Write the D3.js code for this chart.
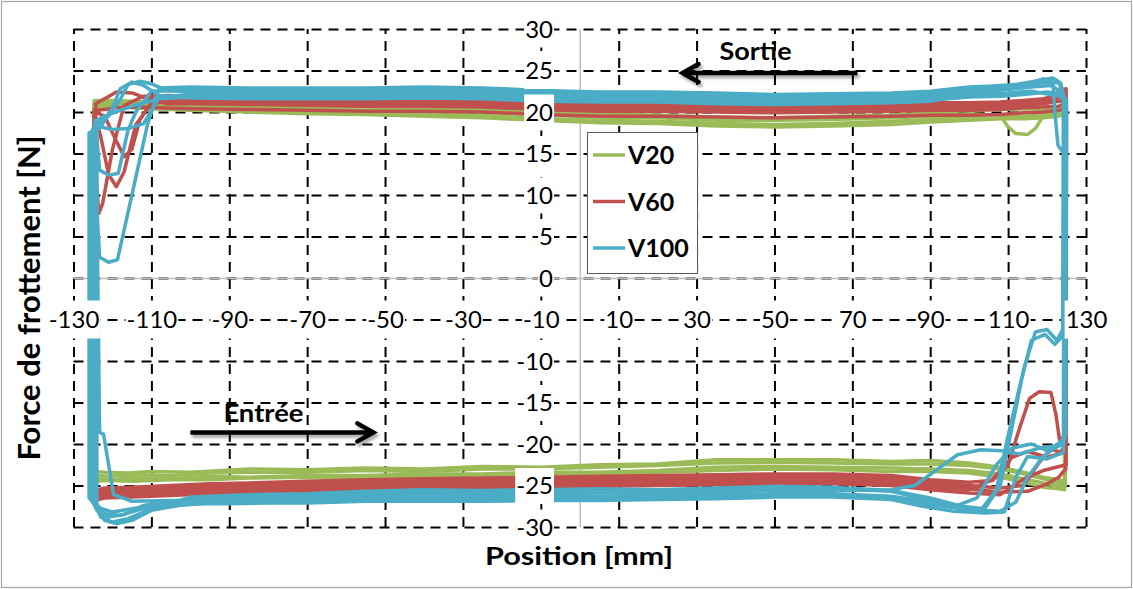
<!DOCTYPE html>
<html>
<head>
<meta charset="utf-8">
<script src="https://cdn.jsdelivr.net/npm/d3@7"></script>
<style>
html,body{margin:0;padding:0;background:#fff;}
svg{display:block;font-family:Lato,"Open Sans",sans-serif;}
</style>
</head>
<body>
<svg id="chart" width="1133" height="589"></svg>
<script>
// ---------------- data ----------------
const xTickValues = [-130,-110,-90,-70,-50,-30,-10,10,30,50,70,90,110,130];
const yGridValues = [30,25,20,15,10,5,0,-5,-10,-15,-20,-25,-30];
const yLabelValues = [30,25,20,15,10,5,0,-10,-15,-20,-25,-30];
const seriesNames = ["V20","V60","V100"];
const seriesColors = ["#9BBB59","#C0504D","#4BACC6"];
const xTitle = "Position [mm]";
const yTitle = "Force de frottement [N]";
// annotation arrows [xStart, xTip, y] and labels [text, x, y] in data units
const sortieArrow = [71.3, 26.4, 24.7];
const entreeArrow = [-100, -53, -18.6];
const sortieLabel = ["Sortie", 35.9, 26.3];
const entreeLabel = ["Entrée", -91.5, -17.3];

// V20 cycles (position mm, force N): bottom pass left->right, then top pass right->left
const v20a = [[-124.7,-23.3],[-122,-23.4],[-116,-23.5],[-110,-23.3],[-100,-23.4],[-85,-23.0],[-70,-23.1],[-55,-22.9],[-40,-23.0],[-25,-22.7],[-10,-22.8],[5,-22.5],[20,-22.4],[35,-21.9],[50,-21.9],[65,-21.9],[80,-22.1],[90,-22.0],[100,-22.3],[108,-22.8],[114,-23.4],[119,-24.0],[123,-24.3],[124.6,-24.5],
  [124.9,21.6],[123,20.6],[119,20.3],[114,20.4],[108,20.3],[100,20.2],[90,19.9],[80,19.6],[65,19.5],[50,19.3],[35,19.4],[20,19.6],[5,19.8],[-10,20.0],[-25,20.3],[-40,20.4],[-55,20.6],[-70,20.7],[-85,20.9],[-100,21.0],[-110,21.2],[-120,21.4],[-124.7,21.4]];
const v20b = [[-124.5,-23.8],[-121,-23.9],[-115,-23.7],[-105,-23.8],[-95,-23.5],[-85,-23.4],[-70,-23.4],[-55,-23.2],[-40,-23.3],[-25,-23.0],[-10,-23.0],[5,-22.8],[20,-22.6],[35,-22.3],[50,-22.2],[65,-22.3],[80,-22.4],[90,-22.4],[100,-22.6],[108,-23.0],[114,-23.6],[119,-24.2],[123,-24.6],[124.5,-24.8],
  [124.6,20.3],[122,20.0],[119,19.5],[117,18.0],[115,17.3],[112,17.4],[110,18.2],[108,19.6],[100,19.8],[90,19.5],[80,19.3],[65,19.1],[50,19.0],[35,19.0],[20,19.3],[5,19.4],[-10,19.6],[-25,20.0],[-40,20.1],[-55,20.2],[-70,20.4],[-85,20.5],[-100,20.7],[-110,20.9],[-118,21.0],[-124.5,21.0]];
const v20c = [[-124.8,-24.2],[-121,-24.3],[-115,-24.1],[-105,-24.2],[-95,-23.9],[-85,-24.0],[-70,-23.8],[-55,-23.8],[-40,-23.6],[-25,-23.6],[-10,-23.4],[5,-23.4],[20,-23.2],[35,-22.8],[50,-22.7],[65,-22.8],[80,-22.9],[90,-23.0],[100,-23.2],[108,-23.6],[114,-24.2],[119,-24.7],[123,-25.0],[124.7,-25.2],
  [124.8,20.0],[123,19.8],[119,19.6],[114,19.5],[108,19.6],[100,19.4],[90,19.1],[80,18.9],[65,18.6],[50,18.5],[35,18.6],[20,18.9],[5,19.0],[-10,19.2],[-25,19.6],[-40,19.8],[-55,19.9],[-70,20.1],[-85,20.2],[-100,20.4],[-110,20.6],[-120,20.8],[-124.8,20.9]];
const v20d = [[-124.6,-24.5],[-121,-24.4],[-115,-24.5],[-105,-24.3],[-95,-24.3],[-85,-24.1],[-70,-24.0],[-55,-24.1],[-40,-23.9],[-25,-23.8],[-10,-23.8],[5,-23.6],[20,-23.4],[35,-23.2],[50,-23.0],[65,-23.1],[80,-23.3],[90,-23.3],[100,-23.5],[108,-24.0],[114,-24.6],[119,-25.2],[123,-25.4],[124.5,-25.5],
  [124.6,19.7],[123,19.5],[119,19.3],[114,19.2],[108,19.2],[100,19.0],[90,18.8],[80,18.5],[65,18.3],[50,18.2],[35,18.3],[20,18.6],[5,18.7],[-10,19.0],[-25,19.3],[-40,19.5],[-55,19.7],[-70,19.8],[-85,20.0],[-100,20.2],[-110,20.4],[-118,20.6],[-124.6,20.6]];

// V60 cycles
const v60a = [[-124.5,-25.6],[-122,-25.3],[-115,-25.2],[-105,-25.0],[-95,-24.8],[-85,-24.7],[-70,-24.5],[-55,-24.3],[-40,-24.2],[-25,-24.1],[-10,-24.0],[5,-23.9],[20,-23.8],[35,-23.7],[50,-23.6],[65,-23.6],[80,-23.8],[90,-24.3],[100,-24.6],[106,-24.4],[110,-22.5],[113,-18],[115.5,-14.5],[118,-13.7],[121,-13.8],[122.3,-16.5],[123.2,-19.5],[124.8,-19],
  [124.9,22.8],[123.5,22.6],[121,21.8],[119,21.6],[114,21.4],[108,21.2],[100,21.1],[90,21.1],[80,21.0],[65,20.9],[50,20.8],[35,20.9],[20,21.0],[5,21.0],[-10,21.2],[-25,21.5],[-40,21.6],[-55,21.6],[-70,21.7],[-85,21.8],[-100,21.9],[-106,22.0],[-112,21.9],[-117,20.8],[-120,15.5],[-122.5,9],[-123.5,7.8],[-124.2,12],[-124.6,19]];
const v60b = [[-124.4,-26.0],[-122,-25.6],[-115,-25.5],[-105,-25.3],[-95,-25.1],[-85,-25.0],[-70,-24.8],[-55,-24.6],[-40,-24.5],[-25,-24.4],[-10,-24.3],[5,-24.2],[20,-24.1],[35,-24.0],[50,-23.9],[65,-23.9],[80,-24.1],[90,-24.6],[100,-25.0],[108,-25.3],[114,-25.0],[118,-22.2],[121,-20.6],[123.5,-21.0],[124.7,-20],
  [124.8,22.3],[123,21.7],[119,21.3],[114,21.1],[108,20.9],[100,20.8],[90,20.8],[80,20.7],[65,20.6],[50,20.5],[35,20.6],[20,20.7],[5,20.7],[-10,20.9],[-25,21.2],[-40,21.3],[-55,21.3],[-70,21.4],[-85,21.5],[-100,21.6],[-106,21.3],[-110,21.0],[-114,18.5],[-117,12.8],[-119,11.0],[-121,12.5],[-123,17],[-124.4,19.5]];
const v60c = [[-124.6,-26.3],[-122,-25.9],[-115,-25.8],[-105,-25.6],[-95,-25.4],[-85,-25.3],[-70,-25.1],[-55,-24.9],[-40,-24.8],[-25,-24.7],[-10,-24.6],[5,-24.5],[20,-24.4],[35,-24.3],[50,-24.2],[65,-24.2],[80,-24.4],[90,-24.9],[100,-25.4],[108,-25.8],[115,-25.7],[120,-24.8],[123,-24.0],[124.8,-23],
  [124.9,21.5],[123,21.3],[119,21.0],[114,20.8],[108,20.6],[100,20.5],[90,20.5],[80,20.4],[65,20.3],[50,20.2],[35,20.3],[20,20.4],[5,20.4],[-10,20.6],[-25,20.9],[-40,21.0],[-55,21.0],[-70,21.1],[-85,21.2],[-100,21.3],[-106,21.3],[-110,21.2],[-113,19.0],[-115,15.5],[-117,14.6],[-119,16.5],[-122,19.5],[-124.6,20]];
const v60d = [[-124.3,-26.6],[-122,-26.2],[-115,-26.1],[-105,-25.9],[-95,-25.7],[-85,-25.6],[-70,-25.4],[-55,-25.2],[-40,-25.1],[-25,-25.0],[-10,-24.9],[5,-24.8],[20,-24.7],[35,-24.6],[50,-24.5],[65,-24.5],[80,-24.7],[90,-25.2],[100,-25.5],[106,-24.3],[111,-21.6],[115,-20.9],[120,-21.6],[124.6,-21],
  [124.7,20.9],[123,20.7],[119,20.6],[114,20.5],[108,20.3],[100,20.2],[90,20.2],[80,20.1],[65,20.0],[50,19.9],[35,20.0],[20,20.1],[5,20.1],[-10,20.3],[-25,20.6],[-40,20.7],[-55,20.7],[-70,20.8],[-85,20.9],[-100,21.0],[-106,21.0],[-111,21.6],[-115,22.3],[-119,22.4],[-122,21.6],[-124.3,21]];
const v60e = [[-124.7,-26.8],[-122,-26.5],[-115,-26.4],[-105,-26.2],[-95,-26.0],[-85,-25.9],[-70,-25.7],[-55,-25.5],[-40,-25.4],[-25,-25.3],[-10,-25.2],[5,-25.1],[20,-25.0],[35,-24.9],[50,-24.8],[65,-24.8],[80,-25.0],[90,-25.5],[100,-25.9],[108,-26.1],[114,-24.2],[119,-23.2],[124.9,-22.5],
  [125,20.4],[123,20.2],[119,20.0],[114,19.9],[108,19.7],[100,19.6],[90,19.6],[80,19.5],[65,19.4],[50,19.3],[35,19.4],[20,19.5],[5,19.5],[-10,19.7],[-25,20.0],[-40,20.1],[-55,20.1],[-70,20.2],[-85,20.3],[-100,20.4],[-108,20.5],[-114,20.6],[-119,20.5],[-122,20.3],[-124.7,20.2]];

// V100 cycles
const v100a = [[-125,-26.8],[-123,-28.8],[-120,-29.4],[-116,-29.0],[-110,-27.8],[-100,-26.4],[-85,-26.1],[-70,-26.0],[-55,-25.7],[-40,-25.5],[-25,-25.6],[-10,-25.5],[5,-25.4],[20,-25.5],[35,-25.3],[50,-25.1],[65,-25.2],[80,-25.6],[90,-26.5],[98,-27.5],[104,-27.8],[108,-25],[111,-18],[114,-11],[117,-6.5],[120,-6.2],[122.5,-7.5],[124.3,-6],
  [124.5,21.5],[123.5,23.5],[121.5,24.1],[118,23.8],[112,23.3],[105,23.1],[100,23.0],[90,22.5],[80,22.3],[65,22.2],[50,22.1],[35,22.3],[20,22.4],[5,22.4],[-10,22.6],[-25,22.9],[-40,23.0],[-55,22.9],[-70,22.9],[-85,22.9],[-100,23.0],[-108,22.9],[-111,18.5],[-115,10],[-118.7,2.2],[-121,1.9],[-123.3,2.5],[-124.2,10],[-125,18]];
const v100b = [[-124.5,-27.0],[-122,-28.4],[-118,-28.6],[-113,-27.9],[-105,-27.0],[-95,-26.5],[-85,-26.4],[-70,-26.2],[-55,-26.0],[-40,-25.8],[-25,-25.8],[-10,-25.7],[5,-25.7],[20,-25.7],[35,-25.5],[50,-25.4],[65,-25.4],[80,-25.7],[90,-26.8],[98,-27.8],[103,-28.0],[107,-25.5],[110,-19],[113,-13],[116,-7.5],[119.5,-6.8],[122,-8],[124,-7],
  [124.2,22.3],[123,23.5],[120,23.6],[116,23.3],[110,23.0],[100,22.7],[90,22.2],[80,22.0],[65,21.9],[50,21.8],[35,21.9],[20,22.1],[5,22.1],[-10,22.3],[-25,22.6],[-40,22.7],[-55,22.6],[-70,22.6],[-85,22.6],[-100,22.6],[-110,22.5],[-114,20],[-116,17.8],[-118.5,12.6],[-121,12.4],[-123.3,13],[-124,17],[-124.5,19]];
const v100c = [[-125.5,-26.5],[-124,-28],[-121,-28.8],[-117,-28.5],[-112,-27.4],[-105,-26.9],[-95,-26.7],[-85,-26.6],[-70,-26.4],[-55,-26.2],[-40,-26.0],[-25,-26.1],[-10,-26.0],[5,-25.9],[20,-25.9],[35,-25.8],[50,-25.6],[65,-25.6],[80,-25.5],[86,-25],[92,-23],[97,-21.3],[103,-20.7],[108,-20.8],[113,-21.2],[118,-20.5],[122,-20.2],[124.5,-19.5],
  [124.6,21.0],[123.5,22.5],[121,23.2],[116,23.0],[110,22.7],[100,22.4],[90,22.0],[80,21.8],[65,21.7],[50,21.6],[35,21.7],[20,21.9],[5,21.9],[-10,22.1],[-25,22.4],[-40,22.5],[-55,22.4],[-70,22.4],[-85,22.4],[-100,22.4],[-106,22.6],[-110,23.4],[-113,23.7],[-116,23.3],[-118,21.5],[-121,19.5],[-124,18.5],[-125.5,17]];
const v100d = [[-123.3,-18.6],[-122.3,-18.8],[-119.7,-26.1],[-115,-26.9],[-105,-26.8],[-95,-26.8],[-85,-26.8],[-70,-26.7],[-55,-26.5],[-40,-26.4],[-25,-26.3],[-10,-26.3],[5,-26.3],[20,-26.2],[35,-26.1],[50,-26.0],[65,-26.0],[80,-26.3],[90,-27.0],[97,-27.4],[102,-26.5],[107,-22.5],[111,-20.5],[116,-20.0],[120,-20.8],[124.3,-20],
  [124.4,21.8],[122,22.0],[116,22.5],[110,22.3],[100,22.1],[90,21.7],[80,21.5],[65,21.4],[50,21.3],[35,21.4],[20,21.6],[5,21.6],[-10,21.8],[-25,22.1],[-40,22.2],[-55,22.1],[-70,22.1],[-85,22.1],[-100,22.1],[-108,21.8],[-112,18.6],[-116,18.0],[-120,17.9],[-123,18.2],[-124.2,18]];
const v100e = [[-124,-27.3],[-122,-29.2],[-119,-29.6],[-115,-29.2],[-110,-28.0],[-103,-27.4],[-95,-27.1],[-85,-27.0],[-70,-26.9],[-55,-26.7],[-40,-26.7],[-25,-26.6],[-10,-26.6],[5,-26.5],[20,-26.5],[35,-26.3],[50,-26.2],[65,-26.2],[80,-26.5],[90,-27.3],[100,-27.9],[108,-28.1],[112,-27],[115,-24],[119,-21.5],[122,-20.5],[124.8,-19],
  [125,21.5],[123.5,22.2],[120,22.4],[114,22.1],[108,21.9],[100,21.8],[90,21.4],[80,21.2],[65,21.1],[50,21.0],[35,21.1],[20,21.3],[5,21.3],[-10,21.5],[-25,21.9],[-40,21.9],[-55,21.8],[-70,21.8],[-85,21.8],[-100,21.8],[-108,21.6],[-113,21.0],[-118,20.2],[-122,19.5],[-124,19]];
const v100f = [[-126,-26.5],[-124,-27.6],[-120,-28.2],[-115,-27.8],[-108,-27.3],[-100,-27.2],[-90,-27.2],[-80,-27.1],[-70,-27.1],[-55,-26.9],[-40,-26.9],[-25,-26.9],[-10,-26.8],[5,-26.8],[20,-26.7],[35,-26.6],[50,-26.4],[65,-26.4],[80,-26.7],[88,-27.5],[96,-28.1],[104,-28.3],[109,-28.2],[112,-24],[115,-21.5],[120,-21.8],[124.2,-21],
  [124.3,15],[122.8,16],[122,20],[121.5,23.6],[119,24.0],[115,23.4],[110,22.9],[100,22.2],[90,21.3],[80,21.1],[65,21.0],[50,20.9],[35,21.0],[20,21.2],[5,21.2],[-10,21.3],[-25,21.6],[-40,21.7],[-55,21.6],[-70,21.6],[-85,21.6],[-100,21.7],[-108,22.0],[-112,23.2],[-115,23.6],[-118,22.8],[-120,20.5],[-123,18.2],[-126,17.5]];

const seriesCycles = [
  [v20a, v20b, v20c, v20d],
  [v60a, v60b, v60c, v60d, v60e],
  [v100a, v100b, v100c, v100d, v100e, v100f]
];

// ---------------- drawing ----------------
const W = 1133, H = 589;
const svg = d3.select("#chart");
const x = d3.scaleLinear().domain([-130,130]).range([73.5,1086]);
const y = d3.scaleLinear().domain([-30,30]).range([527,29]);
const FONT = "Lato, 'Open Sans', sans-serif";

svg.append("rect").attr("x",1.5).attr("y",1.5).attr("width",W-3).attr("height",H-3)
  .attr("fill","#fff").attr("stroke","#a6a6a6").attr("stroke-width",1.2);

const defs = svg.append("defs");
const f = defs.append("filter").attr("id","shadow").attr("x","-10%").attr("y","-50%").attr("width","120%").attr("height","250%");
f.append("feDropShadow").attr("dx",2).attr("dy",3).attr("stdDeviation",1.6)
  .attr("flood-color","#000").attr("flood-opacity",0.35);

// dashed gridlines
const gridV = svg.append("g").attr("transform",`translate(0,${y(-30)})`)
  .call(d3.axisBottom(x).tickValues(xTickValues).tickSize(-(y(-30)-y(30))).tickFormat(""));
gridV.select(".domain").remove();
gridV.selectAll("line").attr("stroke","#000").attr("stroke-width",2).attr("stroke-dasharray","10,7");

const gridH = svg.append("g").attr("transform",`translate(${x(-130)},0)`)
  .call(d3.axisLeft(y).tickValues(yGridValues).tickSize(-(x(130)-x(-130))).tickFormat(""));
gridH.select(".domain").remove();
gridH.selectAll("line").attr("stroke","#000").attr("stroke-width",2).attr("stroke-dasharray","10,7");

// zero axes (grey)
const ax0 = svg.append("g").attr("transform",`translate(0,${y(0)})`)
  .call(d3.axisBottom(x).tickValues([]).tickSizeOuter(0));
ax0.select(".domain").attr("stroke","#bfbfbf").attr("stroke-width",1.5);
const ay0 = svg.append("g").attr("transform",`translate(${x(0)},0)`)
  .call(d3.axisLeft(y).tickValues([]).tickSizeOuter(0));
ay0.select(".domain").attr("stroke","#bfbfbf").attr("stroke-width",1.5);

// data
const line = d3.line().x(d => x(d[0])).y(d => y(d[1])).curve(d3.curveLinearClosed);
const gData = svg.append("g");
seriesCycles.forEach((cycles, i) => {
  cycles.forEach(c => {
    gData.append("path").attr("d", line(c)).attr("fill","none")
      .attr("stroke", seriesColors[i]).attr("stroke-width",3.5)
      .attr("stroke-linejoin","round").attr("stroke-linecap","round");
  });
});

// tick labels with white boxes
function boxLabels(g, halfH, base) {
  g.select(".domain").remove();
  g.selectAll(".tick line").remove();
  g.attr("font-family", FONT).attr("font-size", 24);
  g.selectAll(".tick text").attr("fill","#000").attr("dy", null).attr("y", base);
  g.selectAll(".tick").each(function() {
    const t = d3.select(this).select("text");
    const bb = t.node().getBBox();
    d3.select(this).insert("rect","text").attr("x", bb.x - 1).attr("y", -halfH)
      .attr("width", bb.width + 2).attr("height", 2*halfH).attr("fill","#fff");
  });
}
const yLab = svg.append("g").attr("transform",`translate(553,0)`)
  .call(d3.axisLeft(y).tickValues(yLabelValues).tickSize(0).tickPadding(0).tickFormat(d => String(d)));
yLab.selectAll(".tick text").attr("x", 0);
boxLabels(yLab, 18, 8);

const xLab = svg.append("g").attr("transform",`translate(0,${y(-5)})`)
  .call(d3.axisBottom(x).tickValues(xTickValues).tickSize(0).tickPadding(0).tickFormat(d => String(d)));
boxLabels(xLab, 19, 8.4);

// legend
const lg = svg.append("g").attr("font-family", FONT);
lg.append("rect").attr("x",587.5).attr("y",132.5).attr("width",110).attr("height",141)
  .attr("fill","#fff").attr("stroke","#595959").attr("stroke-width",1);
seriesNames.forEach((n, i) => {
  const cy = 155 + i*46.5;
  lg.append("line").attr("x1",593).attr("x2",625).attr("y1",cy).attr("y2",cy)
    .attr("stroke",seriesColors[i]).attr("stroke-width",3.5);
  lg.append("text").attr("x",628).attr("y",cy+9).attr("font-size",25).attr("font-weight","bold")
    .attr("fill","#000").text(n);
});

// annotation arrows
function arrow(a) {
  const x1 = x(a[0]), x2 = x(a[1]), yy = y(a[2]);
  const dir = Math.sign(x1 - x2);
  const g = svg.append("g").attr("filter","url(#shadow)");
  g.append("line").attr("x1",x1).attr("x2",x2 + dir*2).attr("y1",yy).attr("y2",yy)
    .attr("stroke","#000").attr("stroke-width",4.5);
  g.append("polyline").attr("points",`${x2+dir*16},${yy-9} ${x2},${yy} ${x2+dir*16},${yy+9}`)
    .attr("fill","none").attr("stroke","#000").attr("stroke-width",4.5)
    .attr("stroke-linecap","round").attr("stroke-linejoin","miter");
}
arrow(sortieArrow);
arrow(entreeArrow);

function annot(l, len) {
  svg.append("text").attr("x", x(l[1])).attr("y", y(l[2])).attr("font-family", FONT)
    .attr("font-size",25).attr("font-weight","bold").attr("fill","#000")
    .attr("textLength", len).attr("lengthAdjust","spacingAndGlyphs").text(l[0]);
}
annot(sortieLabel, 72);
annot(entreeLabel, 80);

// axis titles
svg.append("text").attr("x",579).attr("y",565).attr("text-anchor","middle")
  .attr("font-family",FONT).attr("font-size",25).attr("font-weight","bold").attr("fill","#000")
  .attr("textLength",188).attr("lengthAdjust","spacingAndGlyphs").text(xTitle);
svg.append("text").attr("transform","translate(40,298) rotate(-90)").attr("text-anchor","middle")
  .attr("font-family",FONT).attr("font-size",30).attr("font-weight","bold").attr("fill","#000")
  .attr("textLength",325).attr("lengthAdjust","spacingAndGlyphs").text(yTitle);
</script>
</body>
</html>
